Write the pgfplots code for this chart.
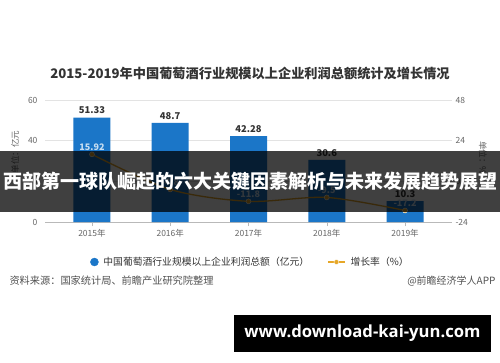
\documentclass[border=0pt]{standalone}
\usepackage{fontspec}
\setmainfont{Noto Sans CJK SC}
\newfontfamily\wfont{Open Sans}
\usepackage{graphicx}
\usepackage{pgfplots}
\pgfplotsset{compat=1.18}
\definecolor{barblue}{HTML}{1B76C8}
\definecolor{gold}{HTML}{E6A728}
\definecolor{txt}{HTML}{333333}
\definecolor{ticktxt}{HTML}{666666}
\begin{document}
\begin{tikzpicture}
\fill[white] (0pt,0pt) rectangle (500pt,362pt);
\path[use as bounding box] (0pt,0pt) rectangle (500pt,362pt);
\node[font=\bfseries\fontsize{13.2}{15}\selectfont, text=txt] at (250pt,289pt) {2015-2019年中国葡萄酒行业规模以上企业利润总额统计及增长情况};
\begin{axis}[
  at={(45pt,140pt)}, anchor=south west, scale only axis,
  width=407pt, height=122pt,
  xmin=-0.6, xmax=4.6, ymin=0, ymax=60,
  ytick={0,20,40,60}, xtick={0,1,2,3,4},
  xticklabels={2015年,2016年,2017年,2018年,2019年},
  axis x line*=bottom, axis y line*=left,
  y axis line style={draw=none}, x axis line style={draw=gray!55},
  ymajorgrids, grid style={draw=gray!22, line width=0.6pt},
  ytick style={draw=none}, xtick style={draw=gray!55},
  tick align=outside, major tick length=4pt,
  tick label style={font=\fontsize{8.5}{10}\selectfont, text=ticktxt},
  /pgf/number format/assume math mode=true,
  ybar, bar width=37pt,
  nodes near coords,
  nodes near coords style={font=\bfseries\fontsize{9.4}{10}\selectfont, text=txt},
]
\addplot[fill=barblue, draw=none] coordinates {(0,51.33) (1,48.7) (2,42.28) (3,30.6) (4,10.3)};
\end{axis}
\begin{axis}[
  at={(45pt,140pt)}, anchor=south west, scale only axis,
  width=407pt, height=122pt,
  xmin=-0.6, xmax=4.6, ymin=-24, ymax=48,
  ytick={-24,0,24,48},
  axis y line*=right, axis x line=none,
  y axis line style={draw=none}, ytick style={draw=none},
  tick label style={font=\fontsize{8.5}{10}\selectfont, text=ticktxt},
  /pgf/number format/assume math mode=true,
  legend style={at={(axis description cs:0.505,-0.328)}, anchor=center, draw=none, fill=none,
    font=\fontsize{9.8}{11}\selectfont, text=txt, legend columns=2,
    /tikz/every even column/.append style={column sep=16pt},
    /tikz/every odd column/.append style={column sep=3pt}},
]
\addlegendimage{only marks, mark=*, mark size=4pt, barblue}
\addlegendentry{中国葡萄酒行业规模以上企业利润总额（亿元）}
\addplot[gold, line width=1.3pt, smooth, mark=*, mark size=2.5pt,
  mark options={fill=gold, draw=white, line width=0.4pt},
  nodes near coords, nodes near coords align={anchor=south},
  nodes near coords style={font=\bfseries\fontsize{9}{10}\selectfont, text=white!75!barblue}]
  coordinates {(0,15.92) (1,-4.8) (2,-11.8) (3,-9.5) (4,-17.2)};
\addlegendentry{增长率（\%）}
\end{axis}
\node[rotate=90, font=\fontsize{8.5}{10}\selectfont, text=ticktxt] at (15pt,210pt) {单位：亿元};
\node[rotate=-90, font=\fontsize{8.5}{10}\selectfont, text=ticktxt] at (483pt,204pt) {单位：\%};
\node[anchor=west, font=\fontsize{10.2}{12}\selectfont, text=txt!85] at (6pt,81pt) {资料来源：国家统计局、前瞻产业研究院整理};
\node[anchor=east, font=\fontsize{10}{12}\selectfont, text=txt!85] at (499pt,81pt) {@前瞻经济学人APP};
\fill[black, opacity=0.75] (0pt,150pt) rectangle (500pt,211pt);
\node[text=white, font=\bfseries\fontsize{19}{20}\selectfont] at (250pt,180.5pt) {西部第一球队崛起的六大关键因素解析与未来发展趋势展望};
\fill[black] (234pt,10pt) rectangle (491pt,47pt);
\node[text=white] at (362.5pt,28.5pt) {\resizebox{236pt}{!}{\wfont\bfseries www.download-kai-yun.com}};
\end{tikzpicture}
\end{document}
